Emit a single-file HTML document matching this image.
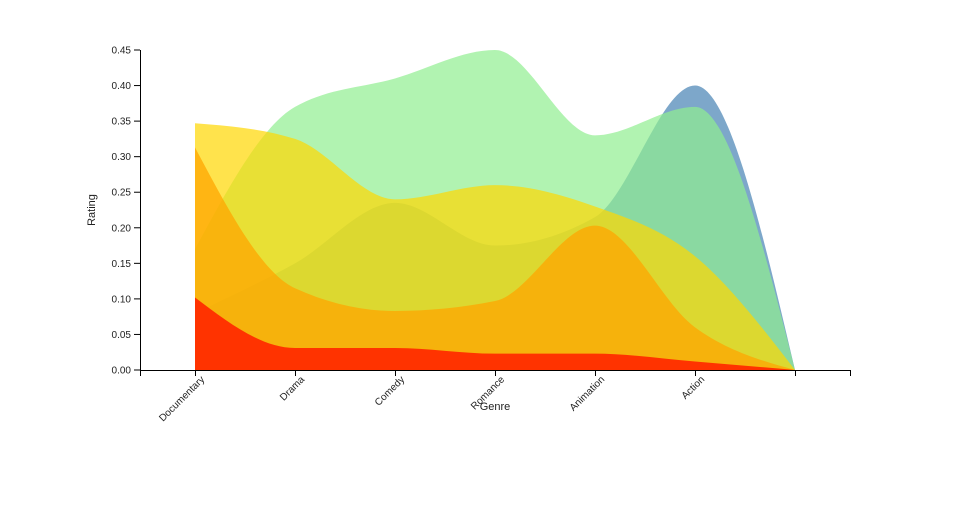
<!DOCTYPE html>
<html><head><meta charset="utf-8"><style>
body{margin:0;background:#fff}
text{font-family:"Liberation Sans",sans-serif;font-size:10px;fill:#222}
</style></head><body>
<svg id="s" width="960" height="500" xmlns="http://www.w3.org/2000/svg">
<g id="areas"></g>
<g stroke="#000" fill="none" stroke-width="1">
<path d="M140.5,50V370.5"/>
<path d="M140,370.5H850"/>
</g>
<g id="ax"></g>
<text x="95" y="210" transform="rotate(-90 95 210)" text-anchor="middle" style="font-size:11px">Rating</text>
<text x="495" y="410" text-anchor="middle" style="font-size:11px">Genre</text>
</svg>
<script>
var ns="http://www.w3.org/2000/svg";
function Y(v){return 370-v*711.1;}
var xs=[195,295,395,495,595,695,795];
var series=[
["#4682b4",0.7,[0.08,0.15,0.235,0.175,0.215,0.40,0]],
["#90ee90",0.7,[0.17,0.37,0.41,0.45,0.33,0.37,0]],
["#ffd700",0.7,[0.347,0.325,0.24,0.26,0.23,0.16,0]],
["#ffa500",0.75,[0.313,0.115,0.083,0.097,0.203,0.06,0]],
["#ff3300",1,[0.102,0.031,0.031,0.023,0.023,0.012,0]]];
function sign(x){return x<0?-1:1;}
function monoPath(p){
 var n=p.length,m=[],s=[];
 for(var i=0;i<n-1;i++)s.push((p[i+1][1]-p[i][1])/(p[i+1][0]-p[i][0]));
 for(var i=0;i<n;i++){
  if(i==0||i==n-1)continue;
  var s0=s[i-1],s1=s[i];
  m[i]=(sign(s0)+sign(s1))*Math.min(Math.abs(s0),Math.abs(s1),0.25*Math.abs(s0+s1))||0;
 }
 m[0]=(3*s[0]-m[1])/2; m[n-1]=(3*s[n-2]-m[n-2])/2;
 var d="";
 for(var i=0;i<n-1;i++){
  var dx=(p[i+1][0]-p[i][0])/3;
  d+="C"+(p[i][0]+dx)+","+(p[i][1]+dx*m[i])+" "+(p[i+1][0]-dx)+","+(p[i+1][1]-dx*m[i+1])+" "+p[i+1][0]+","+p[i+1][1];
 }
 return d;
}
var g=document.getElementById("areas");
series.forEach(function(s){
 var p=xs.map(function(x,i){return [x,Y(s[2][i])];});
 var d="M195,370L"+p[0][0]+","+p[0][1]+monoPath(p)+"L795,370Z";
 var e=document.createElementNS(ns,"path");
 e.setAttribute("d",d);e.setAttribute("fill",s[0]);e.setAttribute("fill-opacity",s[1]);
 g.appendChild(e);
});
var ax=document.getElementById("ax");
for(var i=0;i<=9;i++){
 var y=Y(i*0.05);
 var l=document.createElementNS(ns,"line");
 l.setAttribute("x1",134);l.setAttribute("x2",140);l.setAttribute("y1",y);l.setAttribute("y2",y);l.setAttribute("stroke","#000");
 ax.appendChild(l);
 var t=document.createElementNS(ns,"text");
 t.setAttribute("x",131);t.setAttribute("y",y+3.5);t.setAttribute("text-anchor","end");
 t.textContent=(i*0.05).toFixed(2);ax.appendChild(t);
}
var names=["Documentary","Drama","Comedy","Romance","Animation","Action"];
[140,195,295,395,495,595,695,795,850].forEach(function(x){
 var l=document.createElementNS(ns,"line");
 l.setAttribute("x1",x+0.5);l.setAttribute("x2",x+0.5);l.setAttribute("y1",370);l.setAttribute("y2",376);l.setAttribute("stroke","#000");
 ax.appendChild(l);
});
names.forEach(function(n,i){
 var x=xs[i]+10,y=380;
 var t=document.createElementNS(ns,"text");
 t.setAttribute("x",x);t.setAttribute("y",y);t.setAttribute("text-anchor","end");
 t.setAttribute("transform","rotate(-45 "+x+" "+y+")");
 t.textContent=n;ax.appendChild(t);
});
</script>
</body></html>
